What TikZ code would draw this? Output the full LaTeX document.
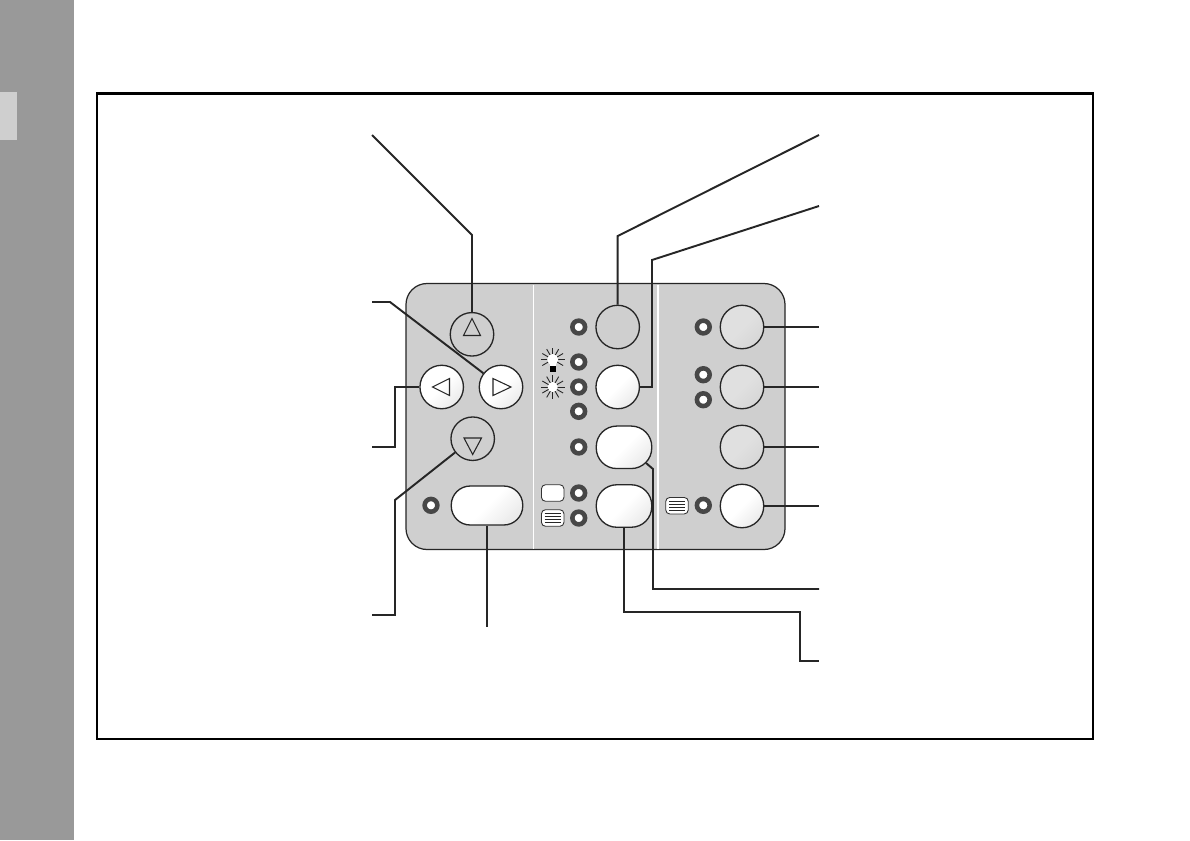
\documentclass[tikz,border=0pt]{standalone}
\usepackage{xcolor}
\usepackage{tikz}
\usetikzlibrary{shapes.misc}
\definecolor{sidegray}{gray}{0.6}
\definecolor{panelgray}{gray}{0.81}
\definecolor{dullgray}{gray}{0.88}
\tikzset{
  leader/.style={draw=black!85,line width=1.1pt},
  rndbtn/.style={draw=black!85,circle,line width=0.75pt,minimum size=0.87cm,inner sep=0pt},
  litbtn/.style={top color=white,bottom color=black!8,middle color=white,shading angle=45},
  flatbtn/.style={top color=dullgray,bottom color=black!16,middle color=dullgray,shading angle=45},
  widebtn/.style={draw=black!85,rectangle,line width=0.75pt,inner sep=0pt,litbtn},
  lampled/.style={circle,draw=black!72,fill=white,line width=2.6pt,minimum size=0.255cm,inner sep=0pt},
  iconbox/.style={draw=black!80,fill=white,rectangle,rounded corners=0.08cm,line width=0.5pt,minimum width=0.45cm,minimum height=0.33cm,inner sep=0pt},
  arrowtri/.style={draw=black!85,fill=none,line width=0.6pt,line join=miter},
  ray/.style={draw=black!85,line width=0.5pt}
}
\begin{document}
\begin{tikzpicture}[x=0.02cm,y=-0.02cm]
  \useasboundingbox (0,0) rectangle (1190,840);
  \fill[white] (0,0) rectangle (1190,840);
  \fill[sidegray] (0,0) rectangle (74,840);
  \fill[panelgray] (0,92) rectangle (17,140);
  \draw[black,line width=1.15pt] (97,93.5) rectangle (1093,739);

  \draw[black!85,fill=panelgray,line width=0.7pt,rounded corners=0.42cm] (406,283.5) rectangle (785,549.5);
  \draw[white,line width=0.8pt] (533.3,284.5) -- (533.3,548.5);
  \draw[white,line width=0.8pt] (658,284.5) -- (658,548.5);

  \node[rndbtn] (up) at (472,334.3) {};
  \node[rndbtn,litbtn] (left) at (441.7,387) {};
  \node[rndbtn,litbtn] (right) at (501,387) {};
  \node[rndbtn] (down) at (472.7,438.7) {};
  \node[widebtn,rounded corners=0.38cm,minimum width=1.43cm,minimum height=0.78cm] (enter) at (487,505.5) {};
  \node[rndbtn] (mode) at (617.7,327) {};
  \node[rndbtn,litbtn] (lamp) at (617.7,387) {};
  \node[widebtn,rounded corners=0.41cm,minimum width=1.11cm,minimum height=0.85cm] (menu) at (624,447.3) {};
  \node[widebtn,rounded corners=0.41cm,minimum width=1.11cm,minimum height=0.85cm] (page) at (624,506) {};
  \node[rndbtn,flatbtn] (rone) at (742,327) {};
  \node[rndbtn,flatbtn] (rtwo) at (742,387) {};
  \node[rndbtn,flatbtn] (rthree) at (742,447) {};
  \node[rndbtn,litbtn] (rfour) at (742,506) {};

  \draw[arrowtri] (472,318.5) -- (463.5,335.5) -- (480.5,335.5) -- cycle;
  \draw[arrowtri] (432.5,387) -- (449.5,378.5) -- (449.5,395.5) -- cycle;
  \draw[arrowtri] (511,387) -- (493,378.5) -- (493,395.5) -- cycle;
  \draw[arrowtri] (472.7,454.5) -- (464,438) -- (481.5,438) -- cycle;

  \foreach \n/\x/\y in {la/431/505.3,lb/578.7/327,lc/578.7/362,ld/578.7/387,le/578.7/411.3,lf/578.7/447,lg/578.7/493,lh/578.7/518,li/703.3/327,lj/703.3/374.7,lk/703.3/399.7,ll/703.3/505.3}
    \node[lampled] (\n) at (\x,\y) {};

  \node[iconbox] (blank) at (552.7,493) {};
  \node[iconbox] (listb) at (552.7,518) {};
  \node[iconbox] (listr) at (677,505.7) {};
  \foreach \b in {listb,listr}
    \foreach \d in {-4.5,-1.5,1.5,4.5}
      \draw[black!85,line width=0.4pt] ([xshift=-0.16cm,yshift=\d*0.02cm]\b.center) -- ([xshift=0.16cm,yshift=\d*0.02cm]\b.center);

  \foreach \a in {0,30,...,330}
    \draw[ray] (552.7,387) ++(\a:4) -- ++(\a:8);
  \node[circle,fill=white,minimum size=0.2cm,inner sep=0pt] (sun) at (552.7,387) {};
  \foreach \a in {30,0,...,-210}
    \draw[ray] (552.7,359.5) ++(\a:4) -- ++(\a:8);
  \node[circle,fill=white,minimum size=0.22cm,inner sep=0pt] (bulb) at (552.7,359.5) {};
  \fill[white] (549.5,362) rectangle (556,366);
  \fill[black] (549.5,366) rectangle (556,371.5);

  \coordinate (tagup) at (372,135);
  \coordinate (tagright) at (372,302);
  \coordinate (tagleft) at (372,447);
  \coordinate (tagdown) at (372,615);
  \coordinate (tagenter) at (487,627);
  \coordinate (tagmode) at (819,135);
  \coordinate (taglamp) at (819,206);
  \coordinate (tagrone) at (819,327);
  \coordinate (tagrtwo) at (819,387);
  \coordinate (tagrthree) at (819,447);
  \coordinate (tagrfour) at (819,506);
  \coordinate (tagmenu) at (819,589);
  \coordinate (tagpage) at (819,661);
  \coordinate (menucorner) at (646,463);

  \draw[leader] (tagup) -- (472,235) -- (up.north);
  \draw[leader] (tagright) -- (390,302) -- (right.142);
  \draw[leader] (tagleft) -- (395,447) -- (395,387) -- (left.west);
  \draw[leader] (tagdown) -- (395,615) -- (395,500) -- (down.218);
  \draw[leader] (enter.south) -- (tagenter);
  \draw[leader] (tagmode) -- (617.7,236) -- (mode.north);
  \draw[leader] (taglamp) -- (652,260) -- (652,387) -- (lamp.east);
  \draw[leader] (rone.east) -- (tagrone);
  \draw[leader] (rtwo.east) -- (tagrtwo);
  \draw[leader] (rthree.east) -- (tagrthree);
  \draw[leader] (rfour.east) -- (tagrfour);
  \draw[leader] (menucorner) -- (653,469) -- (653,589) -- (tagmenu);
  \draw[leader] (page.south) -- (624,612) -- (800,612) -- (800,661) -- (tagpage);
\end{tikzpicture}
\end{document}
